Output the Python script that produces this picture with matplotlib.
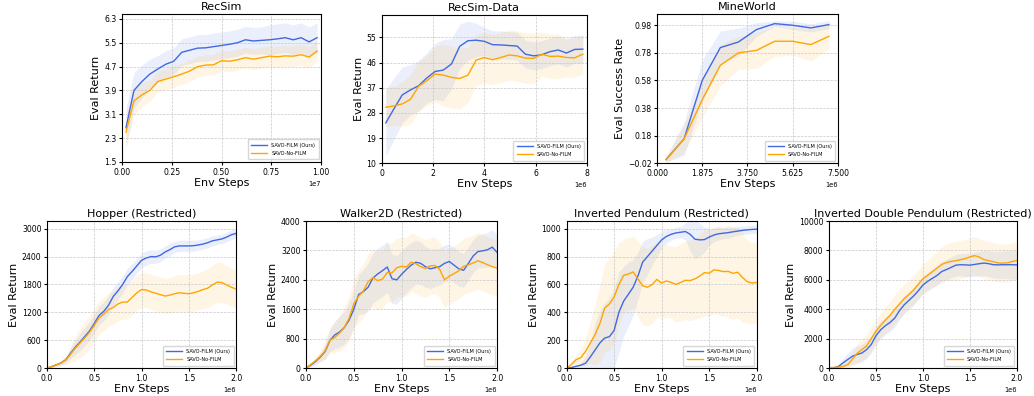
import numpy as np
import matplotlib
matplotlib.use("Agg")
import matplotlib.pyplot as plt

BLUE = '#4169E1'
ORANGE = '#FFA500'
LABELS = ['SAVO-FILM (Ours)', 'SAVO-No-FILM']

# ---------------- data ----------------
# RecSim
recsim_x = np.linspace(0.02e7, 0.98e7, 25)
recsim_film = [2.65, 3.9, 4.2, 4.45, 4.62, 4.78, 4.88, 5.18, 5.25, 5.32, 5.33, 5.37, 5.41,
               5.45, 5.5, 5.6, 5.56, 5.58, 5.6, 5.63, 5.67, 5.6, 5.67, 5.53, 5.67]
recsim_nofilm = [2.5, 3.55, 3.75, 3.9, 4.2, 4.28, 4.36, 4.45, 4.55, 4.7, 4.75, 4.76, 4.9,
                 4.88, 4.93, 5.0, 4.95, 5.0, 5.05, 5.03, 5.06, 5.05, 5.1, 5.02, 5.22]
recsim_film_sd = [0.65, 0.6, 0.55, 0.5, 0.45, 0.45, 0.45, 0.45, 0.45, 0.45, 0.45, 0.45, 0.45,
                  0.45, 0.45, 0.45, 0.45, 0.45, 0.5, 0.5, 0.5, 0.5, 0.5, 0.5, 0.5]
recsim_nofilm_sd = [0.55, 0.45, 0.4, 0.35, 0.35, 0.35, 0.35, 0.35, 0.35, 0.35, 0.35, 0.35, 0.35,
                    0.35, 0.35, 0.35, 0.35, 0.35, 0.35, 0.35, 0.35, 0.35, 0.35, 0.35, 0.35]

# RecSim-Data
rsdata_x = np.linspace(0.15e6, 7.85e6, 25)
rsdata_film = [24.4, 29.5, 34.4, 36.2, 37.7, 40.5, 42.8, 43.3, 45.5, 51.8, 53.8, 54.0, 53.6,
               52.4, 52.3, 52.1, 51.9, 49.0, 48.4, 48.8, 49.9, 50.5, 49.4, 50.7, 50.8]
rsdata_nofilm = [30.0, 30.5, 31.2, 32.8, 37.5, 39.5, 41.9, 41.5, 40.7, 40.3, 41.5, 46.9, 47.8,
                 47.0, 47.8, 48.7, 48.4, 47.6, 47.5, 49.0, 48.2, 48.3, 47.8, 47.7, 49.0]
rsdata_film_sd = [12, 11, 10, 9, 9, 9, 10, 11, 9, 8, 7, 6, 5, 5, 5, 5, 5, 5, 5, 5, 5, 5, 5, 5, 5]
rsdata_nofilm_sd = [7, 7, 8, 9, 9, 9, 10, 11, 11, 11, 10, 9, 9, 9, 9, 9, 9, 9, 9, 8, 8, 8, 7, 7, 7]

# MineWorld
mine_x = np.linspace(0.375e6, 7.125e6, 10)
mine_film = [0.006, 0.157, 0.58, 0.818, 0.859, 0.949, 0.992, 0.98, 0.961, 0.985]
mine_nofilm = [0.004, 0.157, 0.44, 0.69, 0.78, 0.798, 0.864, 0.864, 0.84, 0.9]
mine_film_sd = [0.02, 0.12, 0.15, 0.12, 0.1, 0.05, 0.02, 0.03, 0.03, 0.03]
mine_nofilm_sd = [0.02, 0.1, 0.13, 0.15, 0.12, 0.13, 0.11, 0.1, 0.12, 0.09]

# MuJoCo (restricted), 41 evaluations over 2e6 steps
mj_x = np.linspace(0, 2e6, 41)

hopper_film = [0, 30, 70, 110, 180, 320, 450, 560, 680, 800, 960, 1130, 1220, 1350, 1540, 1660,
               1800, 1970, 2080, 2200, 2320, 2370, 2400, 2395, 2430, 2500, 2550, 2610, 2630, 2630,
               2630, 2635, 2650, 2670, 2700, 2740, 2760, 2780, 2820, 2870, 2900]
hopper_nofilm = [0, 30, 70, 110, 170, 300, 430, 540, 650, 770, 920, 1080, 1160, 1260, 1300, 1380,
                 1420, 1420, 1520, 1620, 1690, 1680, 1640, 1610, 1580, 1550, 1570, 1600, 1620, 1610,
                 1600, 1620, 1650, 1690, 1720, 1790, 1850, 1840, 1790, 1740, 1700]
hopper_film_sd = [0, 20, 30, 50, 80, 120, 160, 190, 200, 200, 200, 200, 200, 200, 200, 190,
                  180, 180, 170, 160, 160, 150, 150, 140, 140, 130, 130, 120, 120, 120,
                  120, 120, 110, 110, 110, 110, 100, 100, 100, 100, 100]
hopper_nofilm_sd = [0, 20, 40, 60, 100, 180, 260, 320, 350, 360, 360, 360, 360, 360, 360, 370,
                    370, 370, 380, 380, 380, 380, 380, 380, 380, 380, 380, 390, 390, 400,
                    400, 400, 400, 410, 420, 430, 440, 430, 420, 410, 400]

walker_film = [0, 80, 180, 300, 450, 750, 900, 980, 1100, 1300, 1600, 2000, 2080, 2200, 2450, 2560,
               2650, 2750, 2430, 2400, 2550, 2680, 2800, 2880, 2850, 2760, 2700, 2730, 2760, 2850,
               2900, 2800, 2700, 2660, 2850, 3050, 3170, 3190, 3220, 3290, 3150]
walker_nofilm = [0, 100, 200, 320, 470, 760, 830, 950, 1100, 1350, 1750, 1950, 2100, 2350, 2460,
                 2380, 2420, 2600, 2590, 2730, 2770, 2750, 2880, 2840, 2760, 2710, 2780, 2790,
                 2680, 2400, 2500, 2570, 2650, 2770, 2810, 2860, 2920, 2870, 2810, 2760, 2720]
walker_film_sd = [0, 50, 80, 120, 200, 300, 380, 420, 450, 480, 500, 550, 600, 650, 680, 700,
                  700, 700, 680, 660, 650, 640, 620, 600, 580, 560, 540, 520, 500, 500,
                  480, 480, 470, 460, 450, 450, 450, 460, 470, 480, 480]
walker_nofilm_sd = [0, 60, 100, 150, 250, 350, 420, 480, 550, 620, 680, 720, 740, 760, 780, 790,
                    800, 800, 800, 800, 800, 800, 800, 800, 800, 790, 780, 770, 760, 760,
                    760, 760, 760, 760, 760, 760, 770, 770, 770, 770, 770]

pend_film = [0, 3, 12, 20, 35, 80, 130, 180, 215, 225, 270, 400, 480, 530, 580, 660, 760, 800,
             840, 880, 920, 945, 960, 970, 975, 980, 960, 925, 920, 922, 940, 955, 964, 968,
             972, 978, 983, 988, 992, 995, 997]
pend_nofilm = [0, 25, 60, 75, 120, 180, 240, 320, 430, 460, 510, 600, 665, 675, 690, 640, 590,
               580, 600, 636, 610, 625, 615, 600, 615, 630, 628, 640, 660, 685, 680, 705, 700,
               692, 694, 680, 688, 650, 620, 610, 615]
pend_film_sd = [0, 5, 10, 20, 50, 100, 200, 230, 250, 280, 300, 290, 250, 230, 200, 170, 150,
                130, 100, 80, 60, 50, 40, 40, 40, 60, 120, 140, 120, 90, 60, 50, 45, 40,
                40, 35, 30, 30, 30, 30, 30]
pend_nofilm_sd = [0, 20, 40, 60, 100, 150, 220, 280, 320, 330, 330, 300, 260, 260, 260, 270, 280,
                  280, 280, 270, 260, 260, 260, 270, 280, 280, 290, 290, 300, 310, 310, 310, 320,
                  320, 330, 330, 330, 320, 300, 290, 290]

idp_film = [0, 20, 100, 350, 580, 800, 920, 1020, 1250, 1600, 2200, 2600, 2880, 3100, 3400, 3900,
            4300, 4600, 4900, 5250, 5650, 5900, 6100, 6300, 6570, 6700, 6850, 7000, 7030, 7020,
            7000, 7050, 7100, 7140, 7100, 7030, 7020, 7030, 7030, 7030, 7020]
idp_nofilm = [20, 40, 60, 100, 230, 600, 1000, 1250, 1500, 2000, 2500, 2900, 3250, 3580, 4000,
              4350, 4720, 5000, 5300, 5700, 6080, 6300, 6550, 6800, 7050, 7180, 7260, 7300, 7370,
              7450, 7560, 7650, 7550, 7380, 7300, 7230, 7150, 7140, 7160, 7250, 7320]
idp_film_sd = [0, 50, 150, 300, 450, 550, 600, 600, 600, 600, 600, 600, 600, 600, 600, 600,
               600, 600, 600, 600, 600, 620, 640, 660, 680, 700, 720, 740, 760, 780,
               800, 820, 840, 860, 880, 900, 920, 940, 960, 980, 1000]
idp_nofilm_sd = [0, 50, 100, 200, 350, 500, 650, 750, 800, 800, 800, 850, 900, 950, 1000, 1000,
                 1000, 1000, 1000, 1000, 1000, 1050, 1100, 1150, 1200, 1250, 1300, 1300, 1300, 1300,
                 1300, 1300, 1300, 1300, 1300, 1300, 1300, 1300, 1300, 1300, 1300]

# ---------------- plotting ----------------
fig = plt.figure(figsize=(10.34, 3.96), dpi=100)


def draw(rect, title, x, film, nofilm, film_sd, nofilm_sd, ylim, yticks, xlim, xticks,
         ylabel='Eval Return', clip0=False):
    ax = fig.add_axes(rect)
    for y, sd, c, lab in [(film, film_sd, BLUE, LABELS[0]), (nofilm, nofilm_sd, ORANGE, LABELS[1])]:
        y = np.array(y, dtype=float)
        sd = np.array(sd, dtype=float)
        lo, hi = y - sd, y + sd
        if clip0:
            lo = np.clip(lo, 0, None)
        ax.fill_between(x, lo, hi, color=c, alpha=0.1, lw=0)
        ax.plot(x, y, color=c, lw=1.0, label=lab)
    ax.set_xlim(*xlim)
    ax.set_ylim(*ylim)
    ax.set_xticks(xticks)
    ax.set_yticks(yticks)
    ax.grid(True, ls='--', lw=0.5, color='#c8c8c8')
    ax.set_title(title, fontsize=8, pad=3)
    ax.set_xlabel('Env Steps', fontsize=8, labelpad=1)
    ax.set_ylabel(ylabel, fontsize=8, labelpad=2)
    ax.tick_params(labelsize=5.6, length=2.5, pad=1.5)
    ax.xaxis.get_offset_text().set_fontsize(4.8)
    ax.legend(loc='lower right', fontsize=3.6, frameon=True, handlelength=3.2,
              borderpad=0.7, labelspacing=0.6)
    return ax


draw([0.118, 0.591, 0.1925, 0.374], 'RecSim', recsim_x, recsim_film, recsim_nofilm,
     recsim_film_sd, recsim_nofilm_sd, (1.5, 6.47), [1.5, 2.3, 3.1, 3.9, 4.7, 5.5, 6.3],
     (0, 1e7), np.linspace(0, 1e7, 5))
draw([0.3694, 0.588, 0.198, 0.374], 'RecSim-Data', rsdata_x, rsdata_film, rsdata_nofilm,
     rsdata_film_sd, rsdata_nofilm_sd, (10, 63), [10, 19, 28, 37, 46, 55],
     (0, 8e6), [0, 2e6, 4e6, 6e6, 8e6])
draw([0.6354, 0.588, 0.175, 0.376], 'MineWorld', mine_x, mine_film, mine_nofilm,
     mine_film_sd, mine_nofilm_sd, (-0.02, 1.06), [-0.02, 0.18, 0.38, 0.58, 0.78, 0.98],
     (0, 7.5e6), np.linspace(0, 7.5e6, 5), ylabel='Eval Success Rate')

draw([0.0455, 0.0707, 0.1828, 0.371], 'Hopper (Restricted)', mj_x, hopper_film, hopper_nofilm,
     hopper_film_sd, hopper_nofilm_sd, (0, 3165), [0, 600, 1200, 1800, 2400, 3000],
     (0, 2e6), np.linspace(0, 2e6, 5), clip0=True)
draw([0.296, 0.0707, 0.1847, 0.371], 'Walker2D (Restricted)', mj_x, walker_film, walker_nofilm,
     walker_film_sd, walker_nofilm_sd, (0, 4000), [0, 800, 1600, 2400, 3200, 4000],
     (0, 2e6), np.linspace(0, 2e6, 5), clip0=True)
draw([0.548, 0.0707, 0.1838, 0.371], 'Inverted Pendulum (Restricted)', mj_x, pend_film,
     pend_nofilm, pend_film_sd, pend_nofilm_sd, (0, 1055), [0, 200, 400, 600, 800, 1000],
     (0, 2e6), np.linspace(0, 2e6, 5), clip0=True)
draw([0.8017, 0.0707, 0.1818, 0.371], 'Inverted Double Pendulum (Restricted)', mj_x, idp_film,
     idp_nofilm, idp_film_sd, idp_nofilm_sd, (0, 10000), [0, 2000, 4000, 6000, 8000, 10000],
     (0, 2e6), np.linspace(0, 2e6, 5), clip0=True)

fig.savefig('out.png', dpi=100)
